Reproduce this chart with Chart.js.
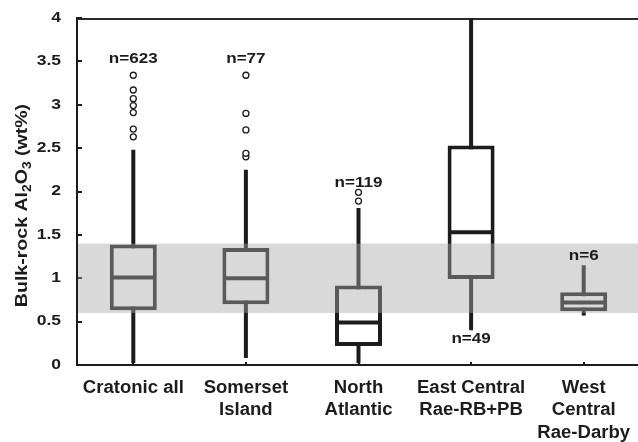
<!DOCTYPE html>
<html>
<head>
<meta charset="utf-8">
<script src="https://cdn.jsdelivr.net/npm/chart.js@4/dist/chart.umd.min.js"></script>
<style>
  html, body { margin: 0; padding: 0; background: #fff; overflow: hidden; }
  canvas { display: block; }
</style>
</head>
<body>
<canvas id="c" width="640" height="442"></canvas>
<script>
// Groups on the x axis (each entry = lines of the label)
const categories = [
  ['Cratonic all'],
  ['Somerset', 'Island'],
  ['North', 'Atlantic'],
  ['East Central', 'Rae-RB+PB'],
  ['West', 'Central', 'Rae-Darby']
];
const categoryNames = categories.map(lines => lines.join(' '));

// Box-plot statistics, Al2O3 wt%
const whiskerLow  = [0.02, 0.08, 0.02, 0.40, 0.57];
const boxLow      = [0.63, 0.70, 0.22, 0.99, 0.62];
const medians     = [1.01, 1.00, 0.49, 1.53, 0.72];
const boxHigh     = [1.39, 1.35, 0.915, 2.53, 0.84];
const whiskerHigh = [2.48, 2.25, 1.81, 4.00, 1.15];
const outliers = [
  [2.63, 2.72, 2.91, 2.99, 3.07, 3.17, 3.34],
  [2.40, 2.44, 2.71, 2.90, 3.34],
  [1.89, 1.99],
  [],
  []
];

// Sample counts and the value level each count label sits at
const countLabels = ['n=623', 'n=77', 'n=119', 'n=49', 'n=6'];
const countLabelAt = [3.52, 3.52, 2.10, 0.30, 1.26];

// Shaded reference range
const bandRange = [0.6, 1.4];

// Y axis ticks
const yTickValues = [0, 0.5, 1, 1.5, 2, 2.5, 3, 3.5, 4];
const yTickLabels = ['0', '0.5', '1', '1.5', '2', '2.5', '3', '3.5', '4'];

const INK = '#1c1c1c';
const FONT = '"Liberation Sans", Arial, Helvetica, sans-serif';

function wideText(ctx, str, x, y, size, align, sx) {
  ctx.save();
  ctx.translate(x, y);
  ctx.scale(sx, 1);
  ctx.font = 'bold ' + size + 'px ' + FONT;
  ctx.textAlign = align;
  ctx.textBaseline = 'middle';
  ctx.fillStyle = INK;
  ctx.fillText(str, 0, 0);
  ctx.restore();
}

const decorations = {
  id: 'decorations',
  beforeDatasetsDraw(chart) {
    const { ctx, chartArea: a, scales: { x, y } } = chart;
    ctx.save();
    ctx.lineWidth = 2;
    // top frame
    ctx.beginPath();
    ctx.moveTo(a.left, a.top + 1);
    ctx.lineTo(a.right, a.top + 1);
    ctx.strokeStyle = '#2a2a2a';
    ctx.stroke();
    ctx.strokeStyle = INK;
    // inward y ticks
    yTickValues.forEach(v => {
      const py = Math.round(y.getPixelForValue(v));
      ctx.beginPath();
      ctx.moveTo(a.left, py);
      ctx.lineTo(a.left + 5, py);
      ctx.stroke();
    });
    // inward x ticks
    categories.forEach((c, i) => {
      const px = Math.round(x.getPixelForTick(i));
      ctx.beginPath();
      ctx.moveTo(px, a.bottom);
      ctx.lineTo(px, a.bottom - 3);
      ctx.stroke();
    });
    ctx.restore();
  },
  afterDatasetsDraw(chart) {
    const { ctx, chartArea: a, scales: { x, y } } = chart;
    // translucent reference band laid over the boxes
    const yTop = y.getPixelForValue(bandRange[1]);
    const yBot = y.getPixelForValue(bandRange[0]);
    ctx.save();
    ctx.fillStyle = 'rgba(170,170,170,0.445)';
    ctx.fillRect(a.left + 1, yTop, a.right - a.left - 1, yBot - yTop);
    ctx.restore();

    // y tick labels
    yTickValues.forEach((v, i) => {
      wideText(ctx, yTickLabels[i], 61, y.getPixelForValue(v), 14, 'right', 1.25);
    });

    // category labels
    categories.forEach((lines, i) => {
      const px = x.getPixelForTick(i);
      lines.forEach((t, k) => {
        wideText(ctx, t, px, a.bottom + 23 + k * 22.5, 18, 'center', 1.03);
      });
    });

    // sample counts
    countLabels.forEach((t, i) => {
      wideText(ctx, t, x.getPixelForTick(i), y.getPixelForValue(countLabelAt[i]), 14, 'center', 1.22);
    });

    // y axis title with subscripts
    const parts = [
      ['Bulk-rock Al', false], ['2', true], ['O', false], ['3', true], [' (wt%)', false]
    ];
    const size = 17, subSize = 12, sx = 1.15;
    ctx.save();
    let total = 0;
    parts.forEach(([t, sub]) => {
      ctx.font = 'bold ' + (sub ? subSize : size) + 'px ' + FONT;
      total += ctx.measureText(t).width;
    });
    ctx.translate(27, (a.top + a.bottom) / 2 + 14);
    ctx.rotate(-Math.PI / 2);
    ctx.scale(sx, 1);
    ctx.fillStyle = INK;
    ctx.textAlign = 'left';
    ctx.textBaseline = 'alphabetic';
    let cx = -total / 2;
    parts.forEach(([t, sub]) => {
      ctx.font = 'bold ' + (sub ? subSize : size) + 'px ' + FONT;
      ctx.fillText(t, cx, sub ? 4 : 0);
      cx += ctx.measureText(t).width;
    });
    ctx.restore();
  }
};

new Chart(document.getElementById('c'), {
  type: 'bar',
  data: {
    labels: categoryNames,
    datasets: [
      {
        type: 'line',
        label: 'outliers',
        data: outliers.flatMap((vals, i) => vals.map(v => ({ x: categoryNames[i], y: v }))),
        showLine: false,
        pointStyle: 'circle',
        pointRadius: 3,
        pointBackgroundColor: '#ffffff',
        pointBorderColor: INK,
        pointBorderWidth: 1.3,
        order: 1
      },
      {
        type: 'line',
        label: 'median',
        data: medians,
        showLine: false,
        pointStyle: 'line',
        pointRadius: 22,
        pointBorderColor: INK,
        pointBorderWidth: 4,
        order: 2
      },
      {
        label: 'box',
        data: boxLow.map((lo, i) => [lo, boxHigh[i]]),
        backgroundColor: '#ffffff',
        borderColor: INK,
        borderWidth: 4,
        borderSkipped: false,
        inflateAmount: 0,
        barThickness: 47,
        grouped: false,
        order: 3
      },
      {
        label: 'whisker',
        data: whiskerLow.map((lo, i) => [lo, whiskerHigh[i]]),
        backgroundColor: INK,
        borderWidth: 0,
        inflateAmount: 0,
        barThickness: 4,
        grouped: false,
        order: 4
      }
    ]
  },
  options: {
    responsive: false,
    animation: false,
    events: [],
    layout: { autoPadding: false, padding: { top: 18, left: 0, right: 0, bottom: 0 } },
    plugins: { legend: { display: false }, tooltip: { enabled: false }, title: { display: false } },
    scales: {
      x: {
        offset: true,
        grid: { display: false, drawTicks: false },
        border: { display: true, color: INK, width: 2 },
        ticks: { display: false },
        afterFit(s) { s.height = 77; }
      },
      y: {
        min: 0,
        max: 4,
        ticks: { display: false, stepSize: 0.5 },
        grid: { display: false, drawTicks: false },
        border: { display: true, color: INK, width: 2 },
        afterFit(s) { s.width = 77; }
      }
    }
  },
  plugins: [decorations]
});
</script>
</body>
</html>
